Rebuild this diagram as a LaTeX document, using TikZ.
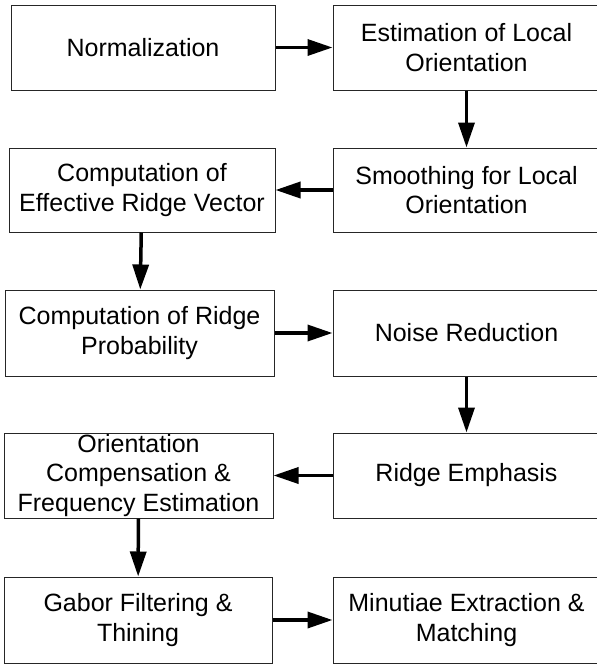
\documentclass[tikz,border=0pt]{standalone}
\usepackage{fontspec}
\setmainfont{Liberation Sans}
\usetikzlibrary{arrows.meta}
\begin{document}
\begin{tikzpicture}[x=1pt,y=-1pt,
  box/.style={draw=black!85, line width=1pt, rectangle, inner sep=0pt, align=center,
              font=\fontsize{25}{29.5}\selectfont},
  conn/.style={line width=3.5pt, -{Triangle[length=25pt,width=16pt]}}]
\useasboundingbox (0,0) rectangle (597,665);
\clip (0,0) rectangle (597,665);
% row 1
\node[box, minimum width=264pt, minimum height=85pt] (norm) at (143,47.5) {Normalization};
\node[box, minimum width=267pt, minimum height=85pt] (est) at (466.5,47.5) {Estimation of Local\\Orientation};
% row 2
\node[box, minimum width=267pt, minimum height=84pt] (smooth) at (466.5,190) {Smoothing for Local\\Orientation};
\node[box, minimum width=266pt, minimum height=84pt] (eff) at (142,190) {Computation of\\Effective Ridge Vector};
% row 3
\node[box, minimum width=269pt, minimum height=86pt] (prob) at (139.5,333) {Computation of Ridge\\Probability};
\node[box, minimum width=267pt, minimum height=86pt] (noise) at (466.5,333) {Noise Reduction};
% row 4
\node[box, minimum width=267pt, minimum height=85pt] (emph) at (466.5,475.5) {Ridge Emphasis};
\node[box, minimum width=269pt, minimum height=85pt] (orient) at (138.5,475.5) {Orientation\\Compensation \&\\Frequency Estimation};
% row 5
\node[box, minimum width=268pt, minimum height=86pt] (gabor) at (138,620) {Gabor Filtering \&\\Thining};
\node[box, minimum width=267pt, minimum height=86pt] (minu) at (466.5,620) {Minutiae Extraction \&\\Matching};
% connectors
\draw[conn] (norm) -- (est);
\draw[conn] (est) -- (smooth);
\draw[conn] (smooth) -- (eff);
\draw[conn] (eff) -- (prob);
\draw[conn] (prob) -- (noise);
\draw[conn] (noise) -- (emph);
\draw[conn] (emph) -- (orient);
\draw[conn] (orient) -- (gabor);
\draw[conn] (gabor) -- (minu);
\end{tikzpicture}
\end{document}
